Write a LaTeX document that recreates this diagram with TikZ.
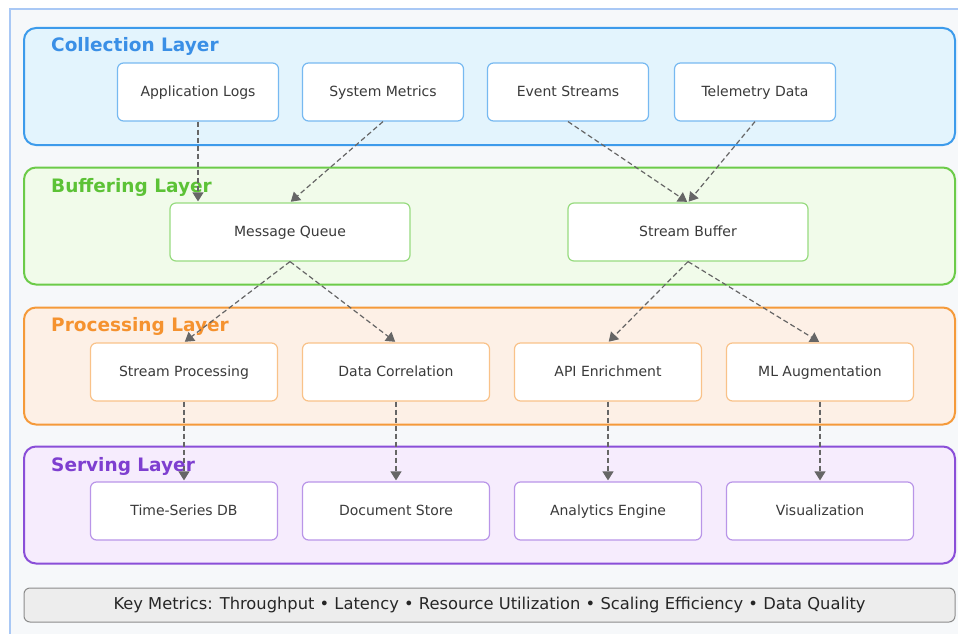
\documentclass[tikz,border=0pt]{standalone}
\usepackage{fontspec}
\setmainfont{DejaVu Sans}
\usetikzlibrary{arrows.meta}

\definecolor{framebl}{HTML}{A9C8F5}
\definecolor{canvas}{HTML}{F6F8FA}
\definecolor{colStroke}{HTML}{3D9BEB}
\definecolor{colFill}{HTML}{E3F4FD}
\definecolor{colTitle}{HTML}{3A8FE6}
\definecolor{bufStroke}{HTML}{6CCB49}
\definecolor{bufFill}{HTML}{F1FBEA}
\definecolor{bufTitle}{HTML}{5CC236}
\definecolor{proStroke}{HTML}{F59A3A}
\definecolor{proFill}{HTML}{FDF0E6}
\definecolor{proTitle}{HTML}{F5922F}
\definecolor{serStroke}{HTML}{8A4FD8}
\definecolor{serFill}{HTML}{F6ECFD}
\definecolor{serTitle}{HTML}{7E3FD0}
\definecolor{labelgray}{HTML}{3A3A3A}
\definecolor{arrowgray}{HTML}{666666}

\tikzset{
  layerbox/.style={draw, line width=2pt, rounded corners=12pt, minimum width=931pt, minimum height=117pt, inner sep=0pt},
  layertitle/.style={anchor=west, font=\bfseries\fontsize{18.5}{22}\selectfont, inner sep=0pt},
  itembox/.style={draw, fill=white, line width=1.2pt, rounded corners=6pt, minimum height=58pt, inner sep=0pt,
    text height=1.9ex, text depth=0.25ex, text=labelgray, font=\fontsize{14}{16}\selectfont},
  colitem/.style={itembox, draw=colStroke!70, minimum width=161pt},
  bufitem/.style={itembox, draw=bufStroke!70, minimum width=240pt},
  proitem/.style={itembox, draw=proStroke!60, minimum width=187pt},
  seritem/.style={itembox, draw=serStroke!60, minimum width=187pt},
  flow/.style={draw=arrowgray, line width=1.2pt, dash pattern=on 5pt off 3pt, -{Triangle[width=11pt,length=9pt]}, shorten >=1pt}
}

\begin{document}
\begin{tikzpicture}[x=1pt,y=-1pt]
  \useasboundingbox (0,0) rectangle (958,634);
  \fill[white] (0,0) rectangle (958,634);
  \draw[framebl, fill=canvas, line width=1.5pt] (10,9) rectangle (975,650);

  % layer panels
  \node[layerbox, draw=colStroke, fill=colFill] (collect) at (489.5,86.5) {};
  \node[layerbox, draw=bufStroke, fill=bufFill] (buffer) at (489.5,226) {};
  \node[layerbox, draw=proStroke, fill=proFill] (process) at (489.5,366) {};
  \node[layerbox, draw=serStroke, fill=serFill] (serve) at (489.5,505) {};

  \node[layertitle, text=colTitle] (tcollect) at (51,46) {Collection Layer};
  \node[layertitle, text=bufTitle] (tbuffer) at (51,187) {Buffering Layer};
  \node[layertitle, text=proTitle] (tprocess) at (51,326) {Processing Layer};
  \node[layertitle, text=serTitle] (tserve) at (51,466) {Serving Layer};

  % collection layer
  \node[colitem] (applogs) at (198,92) {Application Logs};
  \node[colitem] (sysmet) at (383,92) {System Metrics};
  \node[colitem] (events) at (568,92) {Event Streams};
  \node[colitem] (telem) at (755,92) {Telemetry Data};

  % buffering layer
  \node[bufitem] (mqueue) at (290,232) {Message Queue};
  \node[bufitem] (sbuffer) at (688,232) {Stream Buffer};

  % processing layer
  \node[proitem] (sproc) at (184,372) {Stream Processing};
  \node[proitem] (dcorr) at (396,372) {Data Correlation};
  \node[proitem] (apienr) at (608,372) {API Enrichment};
  \node[proitem] (mlaug) at (820,372) {ML Augmentation};

  % serving layer
  \node[seritem] (tsdb) at (184,511) {Time-Series DB};
  \node[seritem] (docstore) at (396,511) {Document Store};
  \node[seritem] (analytics) at (608,511) {Analytics Engine};
  \node[seritem] (visual) at (820,511) {Visualization};

  % metrics footer
  \node[draw=black!45, fill=black!7, line width=1pt, rounded corners=6pt, minimum width=931pt, minimum height=34pt, inner sep=0pt,
    text height=1.9ex, text depth=0.25ex, font=\fontsize{16.3}{19}\selectfont, text=black!85] (metrics) at (489.5,605)
    {Key Metrics: Throughput • Latency • Resource Utilization • Scaling Efficiency • Data Quality};

  % data flow
  \draw[flow] (applogs.south) -- (applogs.south |- mqueue.north);
  \draw[flow] (sysmet.south) -- (mqueue.north);
  \draw[flow] (events.south) -- (sbuffer.north);
  \draw[flow] (telem.south) -- (sbuffer.north);
  \draw[flow] (mqueue.south) -- (sproc.north);
  \draw[flow] (mqueue.south) -- (dcorr.north);
  \draw[flow] (sbuffer.south) -- (apienr.north);
  \draw[flow] (sbuffer.south) -- (mlaug.north);
  \draw[flow] (sproc.south) -- (tsdb.north);
  \draw[flow] (dcorr.south) -- (docstore.north);
  \draw[flow] (apienr.south) -- (analytics.north);
  \draw[flow] (mlaug.south) -- (visual.north);
\end{tikzpicture}
\end{document}
